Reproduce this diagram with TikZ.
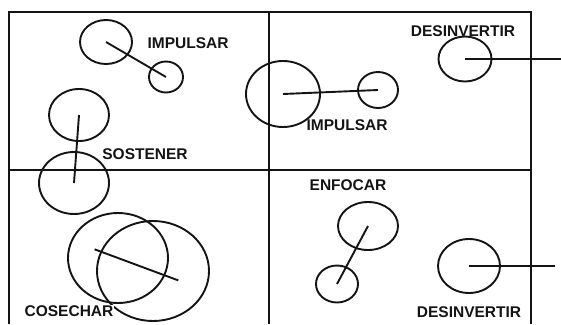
\documentclass[tikz,border=0pt]{standalone}
\usepackage{fontspec}
\setmainfont{Liberation Sans}
\usetikzlibrary{shapes.geometric}
\definecolor{ink}{gray}{0.08}
\tikzset{
  ring/.style={draw=ink, line width=1.9pt, ellipse, inner sep=0pt, outer sep=0pt},
  link/.style={draw=ink, line width=1.9pt},
  frameline/.style={draw=ink, line width=1.7pt},
  lbl/.style={font=\fontsize{15.5}{16}\selectfont\bfseries, text=ink, inner sep=0pt}
}
\begin{document}
\begin{tikzpicture}[x=1pt,y=-1pt]
\useasboundingbox (0,0) rectangle (561,324);
% frame
\coordinate (tl) at (9,12);
\coordinate (tr) at (531,12);
\coordinate (bl) at (9,324);
\coordinate (br) at (531,324);
\coordinate (tm) at (269,12);
\coordinate (bm) at (269,324);
\coordinate (ml) at (9,170);
\coordinate (mr) at (531,170);
\draw[frameline] (bl) -- (tl) -- (tr) -- (br);
\draw[frameline] (tm) -- (bm);
\draw[frameline] (ml) -- (mr);
% top-left
\node[ring, minimum width=52pt, minimum height=44pt] (a) at (106,42) {};
\node[ring, minimum width=34pt, minimum height=31pt] (b) at (166,77) {};
\draw[link] (a.center) -- (b.center);
\node[lbl] (la) at (188,43) {IMPULSAR};
\node[ring, minimum width=60pt, minimum height=52pt] (c) at (79,115) {};
\node[ring, minimum width=70pt, minimum height=62pt] (d) at (74,183) {};
\draw[link] (c.center) -- (d.center);
\node[lbl] (ls) at (145,154) {SOSTENER};
% bottom-left
\node[ring, minimum width=100pt, minimum height=90pt] (e) at (118,258) {};
\node[ring, minimum width=112pt, minimum height=100pt] (f) at (153,271) {};
\draw[link, shorten <=-25pt, shorten >=-27pt] (e.center) -- (f.center);
\node[lbl, fill=white, inner sep=1pt] (lc) at (69,311) {COSECHAR};
% top-right
\node[ring, minimum width=74pt, minimum height=66pt] (g) at (283,94) {};
\node[ring, minimum width=40pt, minimum height=36pt] (h) at (378,90) {};
\draw[link] (g.center) -- (h.center);
\node[lbl] (li) at (347,125) {IMPULSAR};
\node[lbl] (ld1) at (463,31) {DESINVERTIR};
\node[ring, minimum width=53pt, minimum height=45pt] (i) at (465,59) {};
\coordinate (iend) at (561,59);
\draw[link] (i.center) -- (iend);
% bottom-right
\node[lbl] (le) at (348,185) {ENFOCAR};
\node[ring, minimum width=60pt, minimum height=48pt] (j) at (368,226) {};
\node[ring, minimum width=42pt, minimum height=37pt] (k) at (337,284) {};
\draw[link] (j.center) -- (k.center);
\node[ring, minimum width=62pt, minimum height=54pt] (l) at (469,266) {};
\coordinate (lend) at (555,266);
\draw[link] (l.center) -- (lend);
\node[lbl] (ld2) at (469,312) {DESINVERTIR};
\end{tikzpicture}
\end{document}
